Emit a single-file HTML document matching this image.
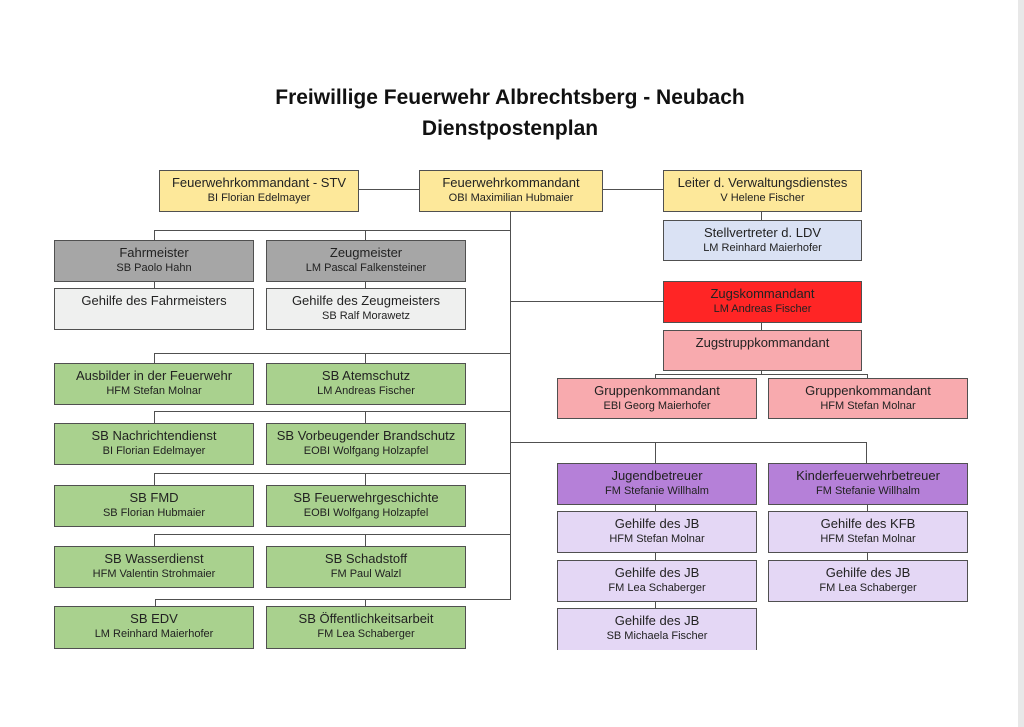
<!DOCTYPE html>
<html><head><meta charset="utf-8"><style>
body{margin:0;width:1024px;height:727px;background:#fff;position:relative;overflow:hidden;font-family:"Liberation Sans",sans-serif}
.t{position:absolute;left:0;width:1020px;text-align:center;font-weight:bold;font-size:21px;color:#111}
.b{position:absolute;box-sizing:border-box;border:1.5px solid #505050;text-align:center;color:#222;font-size:13px;line-height:16px;padding-top:4px}
.b small{display:block;font-size:11px;line-height:15px}
.l{position:absolute;background:#505050}
.y{background:#fde89a}.g{background:#a6a6a6}.lg{background:#eff0ef}.gr{background:#a9d18e}.lb{background:#dae2f4}
.r{background:#ff2525}.p{background:#f8aaae}.pu{background:#b580d8}.lp{background:#e4d7f5}
</style></head><body>
<div class="t" style="top:86px">Freiwillige Feuerwehr Albrechtsberg - Neubach</div>
<div class="t" style="top:117px">Dienstpostenplan</div>

<!-- lines -->
<div class="l" style="left:358px;top:189px;width:61px;height:1px"></div>
<div class="l" style="left:602px;top:189px;width:61px;height:1px"></div>
<div class="l" style="left:510px;top:211px;width:1px;height:389px"></div>
<div class="l" style="left:761px;top:212px;width:1px;height:8px"></div>
<div class="l" style="left:510px;top:301px;width:153px;height:1px"></div>
<div class="l" style="left:761px;top:322px;width:1px;height:8px"></div>
<div class="l" style="left:761px;top:370px;width:1px;height:5px"></div>
<div class="l" style="left:655px;top:374px;width:213px;height:1px"></div>
<div class="l" style="left:655px;top:374px;width:1px;height:4px"></div>
<div class="l" style="left:867px;top:374px;width:1px;height:4px"></div>
<div class="l" style="left:510px;top:442px;width:357px;height:1px"></div>
<div class="l" style="left:655px;top:442px;width:1px;height:21px"></div>
<div class="l" style="left:866px;top:442px;width:1px;height:21px"></div>
<div class="l" style="left:655px;top:504px;width:1px;height:104px"></div>
<div class="l" style="left:867px;top:504px;width:1px;height:56px"></div>
<!-- left rows -->
<div class="l" style="left:154px;top:230px;width:357px;height:1px"></div>
<div class="l" style="left:154px;top:230px;width:1px;height:10px"></div>
<div class="l" style="left:365px;top:230px;width:1px;height:10px"></div>
<div class="l" style="left:154px;top:281px;width:1px;height:7px"></div>
<div class="l" style="left:365px;top:281px;width:1px;height:7px"></div>
<div class="l" style="left:154px;top:353px;width:357px;height:1px"></div>
<div class="l" style="left:154px;top:353px;width:1px;height:10px"></div>
<div class="l" style="left:365px;top:353px;width:1px;height:10px"></div>
<div class="l" style="left:154px;top:411px;width:357px;height:1px"></div>
<div class="l" style="left:154px;top:411px;width:1px;height:12px"></div>
<div class="l" style="left:365px;top:411px;width:1px;height:12px"></div>
<div class="l" style="left:154px;top:473px;width:357px;height:1px"></div>
<div class="l" style="left:154px;top:473px;width:1px;height:12px"></div>
<div class="l" style="left:365px;top:473px;width:1px;height:12px"></div>
<div class="l" style="left:154px;top:534px;width:357px;height:1px"></div>
<div class="l" style="left:154px;top:534px;width:1px;height:12px"></div>
<div class="l" style="left:365px;top:534px;width:1px;height:12px"></div>
<div class="l" style="left:155px;top:599px;width:356px;height:1px"></div>
<div class="l" style="left:155px;top:599px;width:1px;height:7px"></div>
<div class="l" style="left:365px;top:599px;width:1px;height:7px"></div>

<div class="b y" style="left:159px;top:170px;width:200px;height:42px">Feuerwehrkommandant - STV<small>BI Florian Edelmayer</small></div>
<div class="b y" style="left:419px;top:170px;width:184px;height:42px">Feuerwehrkommandant<small>OBI Maximilian Hubmaier</small></div>
<div class="b y" style="left:663px;top:170px;width:199px;height:42px">Leiter d. Verwaltungsdienstes<small>V Helene Fischer</small></div>
<div class="b lb" style="left:663px;top:220px;width:199px;height:41px">Stellvertreter d. LDV<small>LM Reinhard Maierhofer</small></div>
<div class="b r" style="left:663px;top:281px;width:199px;height:42px">Zugskommandant<small>LM Andreas Fischer</small></div>
<div class="b p" style="left:663px;top:330px;width:199px;height:41px">Zugstruppkommandant</div>
<div class="b p" style="left:557px;top:378px;width:200px;height:41px">Gruppenkommandant<small>EBI Georg Maierhofer</small></div>
<div class="b p" style="left:768px;top:378px;width:200px;height:41px">Gruppenkommandant<small>HFM Stefan Molnar</small></div>

<div class="b g" style="left:54px;top:240px;width:200px;height:42px">Fahrmeister<small>SB Paolo Hahn</small></div>
<div class="b g" style="left:266px;top:240px;width:200px;height:42px">Zeugmeister<small>LM Pascal Falkensteiner</small></div>
<div class="b lg" style="left:54px;top:288px;width:200px;height:42px">Gehilfe des Fahrmeisters</div>
<div class="b lg" style="left:266px;top:288px;width:200px;height:42px">Gehilfe des Zeugmeisters<small>SB Ralf Morawetz</small></div>

<div class="b gr" style="left:54px;top:363px;width:200px;height:42px">Ausbilder in der Feuerwehr<small>HFM Stefan Molnar</small></div>
<div class="b gr" style="left:266px;top:363px;width:200px;height:42px">SB Atemschutz<small>LM Andreas Fischer</small></div>
<div class="b gr" style="left:54px;top:423px;width:200px;height:42px">SB Nachrichtendienst<small>BI Florian Edelmayer</small></div>
<div class="b gr" style="left:266px;top:423px;width:200px;height:42px">SB Vorbeugender Brandschutz<small>EOBI Wolfgang Holzapfel</small></div>
<div class="b gr" style="left:54px;top:485px;width:200px;height:42px">SB FMD<small>SB Florian Hubmaier</small></div>
<div class="b gr" style="left:266px;top:485px;width:200px;height:42px">SB Feuerwehrgeschichte<small>EOBI Wolfgang Holzapfel</small></div>
<div class="b gr" style="left:54px;top:546px;width:200px;height:42px">SB Wasserdienst<small>HFM Valentin Strohmaier</small></div>
<div class="b gr" style="left:266px;top:546px;width:200px;height:42px">SB Schadstoff<small>FM Paul Walzl</small></div>
<div class="b gr" style="left:54px;top:606px;width:200px;height:43px">SB EDV<small>LM Reinhard Maierhofer</small></div>
<div class="b gr" style="left:266px;top:606px;width:200px;height:43px">SB Öffentlichkeitsarbeit<small>FM Lea Schaberger</small></div>

<div class="b pu" style="left:557px;top:463px;width:200px;height:42px">Jugendbetreuer<small>FM Stefanie Willhalm</small></div>
<div class="b pu" style="left:768px;top:463px;width:200px;height:42px">Kinderfeuerwehrbetreuer<small>FM Stefanie Willhalm</small></div>
<div class="b lp" style="left:557px;top:511px;width:200px;height:42px">Gehilfe des JB<small>HFM Stefan Molnar</small></div>
<div class="b lp" style="left:768px;top:511px;width:200px;height:42px">Gehilfe des KFB<small>HFM Stefan Molnar</small></div>
<div class="b lp" style="left:557px;top:560px;width:200px;height:42px">Gehilfe des JB<small>FM Lea Schaberger</small></div>
<div class="b lp" style="left:768px;top:560px;width:200px;height:42px">Gehilfe des JB<small>FM Lea Schaberger</small></div>
<div class="b lp" style="left:557px;top:608px;width:200px;height:42px;border-bottom:none">Gehilfe des JB<small>SB Michaela Fischer</small></div>
<div style="position:absolute;left:1018px;top:0;width:6px;height:727px;background:#e8e8e8"></div>
</body></html>
